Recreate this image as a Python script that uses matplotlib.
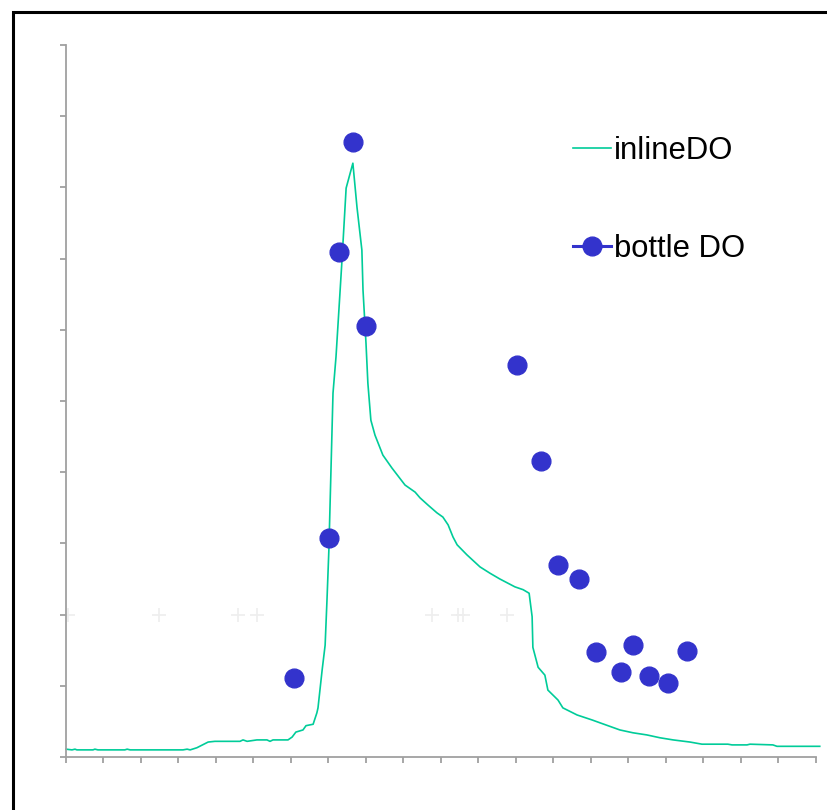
import matplotlib
matplotlib.use("Agg")
import matplotlib.pyplot as plt
from matplotlib.lines import Line2D
from matplotlib.patches import Rectangle

plt.rcParams['font.family'] = ['Liberation Sans', 'DejaVu Sans']

# inline DO trace (x in tick units 0..20, y in tick units 0..10)
inline_x = [0.00, 0.16, 0.24, 0.29, 0.72, 0.77, 0.85, 1.57, 1.63, 1.71, 3.12, 3.23, 3.31, 3.49,
            3.79, 3.97, 4.64, 4.72, 4.83, 5.09, 5.36, 5.44, 5.52, 5.92, 6.03, 6.13, 6.32, 6.40,
            6.59, 6.69, 6.72, 6.83, 6.91, 6.96, 7.01, 7.12, 7.20, 7.36, 7.47, 7.65, 7.76, 7.89,
            7.92, 8.00, 8.05, 8.13, 8.24, 8.45, 8.69, 9.04, 9.31, 9.44, 9.65, 9.89, 10.05, 10.19,
            10.32, 10.43, 10.69, 11.04, 11.31, 11.57, 11.97, 12.19, 12.35, 12.43, 12.45, 12.59,
            12.77, 12.85, 13.12, 13.25, 13.63, 14.03, 14.24, 14.77, 15.12, 15.49, 15.84, 16.19,
            16.64, 16.96, 17.65, 17.76, 18.16, 18.24, 18.85, 18.96, 19.49, 19.76, 20.10]
inline_y = [0.11, 0.10, 0.11, 0.10, 0.10, 0.11, 0.10, 0.10, 0.11, 0.10, 0.10, 0.11, 0.10, 0.13,
            0.21, 0.22, 0.22, 0.24, 0.22, 0.24, 0.24, 0.22, 0.24, 0.24, 0.28, 0.35, 0.38, 0.44,
            0.46, 0.62, 0.69, 1.22, 1.57, 2.21, 2.91, 5.11, 5.62, 6.98, 7.99, 8.34, 7.72, 7.12,
            6.56, 5.81, 5.25, 4.73, 4.52, 4.24, 4.06, 3.82, 3.72, 3.64, 3.54, 3.43, 3.37, 3.26,
            3.09, 2.98, 2.84, 2.67, 2.58, 2.50, 2.39, 2.35, 2.30, 1.97, 1.54, 1.26,
            1.15, 0.94, 0.80, 0.69, 0.59, 0.52, 0.48, 0.38, 0.34, 0.31, 0.27, 0.24,
            0.21, 0.18, 0.18, 0.17, 0.17, 0.18, 0.17, 0.15, 0.15, 0.15, 0.15]

# bottle DO samples
bottle_x = [6.08, 7.01, 7.28, 7.65, 8.00, 12.03, 12.67, 13.12, 13.68, 14.13, 14.80, 15.12, 15.55, 16.05, 16.56]
bottle_y = [1.11, 3.08, 7.09, 8.64, 6.05, 5.51, 4.16, 2.70, 2.50, 1.47, 1.19, 1.57, 1.14, 1.04, 1.49]

# faint marks left in the plot area
faint_x = [0.05, 2.48, 4.59, 5.09, 9.76, 10.45, 10.59, 11.76]
faint_y = [2.0] * len(faint_x)

line_col = '#00CC99'
dot_col = '#3333CC'
axis_col = '#A0A0A0'

fig = plt.figure(figsize=(8.28, 8.10), dpi=100)
ax = fig.add_axes([66 / 828, 53 / 810, 750 / 828, 712 / 810])

ax.plot(faint_x, faint_y, linestyle='none', marker='+', markersize=10, color='#EEEEEE', mew=1.2)
ax.plot(inline_x, inline_y, color=line_col, lw=1.2, clip_on=False)
ax.plot(bottle_x, bottle_y, linestyle='none', marker='o', markersize=13.5,
        color=dot_col, markeredgecolor=dot_col)

ax.set_xlim(0, 20)
ax.set_ylim(0, 10)
ax.set_xticks(range(0, 21))
ax.set_yticks(range(0, 11))
ax.set_xticklabels([])
ax.set_yticklabels([])
for s in ['top', 'right']:
    ax.spines[s].set_visible(False)
for s in ['left', 'bottom']:
    ax.spines[s].set_color(axis_col)
    ax.spines[s].set_linewidth(1.3)
ax.tick_params(axis='both', direction='out', color=axis_col, width=1.3, length=4)

handles = [Line2D([], [], color=line_col, lw=1.2),
           Line2D([], [], color=dot_col, lw=2.2, marker='o', markersize=13.5)]
ax.legend(handles, ['inlineDO', 'bottle DO'], loc='upper left',
          bbox_to_anchor=(0.66, 0.89), frameon=False, fontsize=22.3,
          handlelength=1.2, handletextpad=0.1, labelspacing=2.2, borderaxespad=0)

# outer chart border (cut off at the right and bottom edges)
fig.add_artist(Rectangle((13 / 828, -0.1), 1.2, 1.1 - 12 / 810, fill=False,
                         edgecolor='black', lw=2.2, transform=fig.transFigure, clip_on=False))

fig.savefig('out.png', dpi=100)
